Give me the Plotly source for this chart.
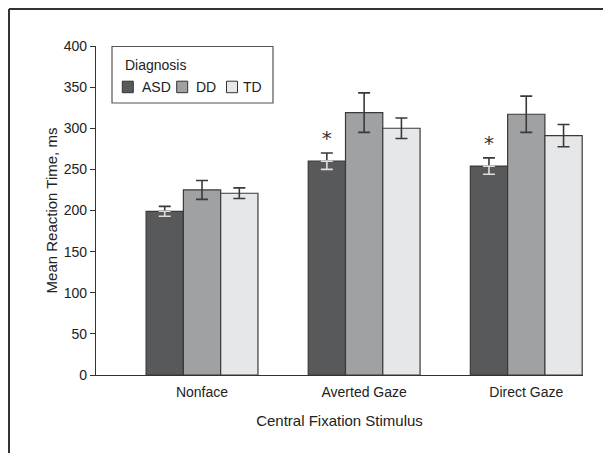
import plotly.graph_objects as go

categories = ["Nonface", "Averted Gaze", "Direct Gaze"]
asd = [199, 260, 254]
asd_err = [6, 10, 10]
dd = [225, 319, 317]
dd_err = [11.5, 24, 22]
td = [221, 300, 291]
td_err = [6.5, 12.5, 13.5]
asd_marks = ["", "*", "*"]
series_names = ["ASD", "DD", "TD"]
series_colors = ["#58595b", "#a0a1a3", "#e6e7e8"]

FONT = "Liberation Sans, Arial, sans-serif"
ERR = "#3a3a3a"
OUTLINE = "#3a3a3a"

fig = go.Figure()

def add_series(name, vals, errs, color, lower_color=ERR):
    fig.add_trace(go.Bar(
        name=name, x=categories, y=vals, offsetgroup=name,
        marker=dict(color=color, line=dict(color=OUTLINE, width=1.2)),
        error_y=dict(type="data", symmetric=False, array=errs,
                     arrayminus=[0] * len(errs) if lower_color != ERR else errs,
                     color=ERR, thickness=1.6, width=6),
    ))
    if lower_color != ERR:
        fig.add_trace(go.Bar(
            name=name, x=categories, y=vals, offsetgroup=name, showlegend=False,
            marker=dict(color="rgba(0,0,0,0)", line=dict(width=0)),
            error_y=dict(type="data", symmetric=False, array=[0] * len(errs),
                         arrayminus=errs, color=lower_color, thickness=1.6, width=6),
            hoverinfo="skip",
        ))

add_series(series_names[0], asd, asd_err, series_colors[0], lower_color="#dedede")
add_series(series_names[1], dd, dd_err, series_colors[1])
add_series(series_names[2], td, td_err, series_colors[2])

# significance asterisks above ASD error bars
fig.add_trace(go.Bar(
    x=categories, y=[v + e for v, e in zip(asd, asd_err)], offsetgroup="ASD",
    showlegend=False, marker=dict(color="rgba(0,0,0,0)", line=dict(width=0)),
    text=asd_marks, textposition="outside", cliponaxis=False,
    textfont=dict(family="DejaVu Sans", size=20, color="#333"),
    hoverinfo="skip",
))

# figure sits inside the page's 8px body margin
W, H = 603, 445
L, R, T, B = 88, 28, 38, 78
pw, ph = W - L - R, H - T - B

def px_x(px):
    return (px - L) / pw

def px_y(py):
    return (H - B - py) / ph

shapes = [
    dict(type="line", xref="paper", yref="paper", x0=px_x(1), x1=px_x(W),
         y0=px_y(1), y1=px_y(1), line=dict(color="#333", width=2)),
    dict(type="line", xref="paper", yref="paper", x0=px_x(1), x1=px_x(1),
         y0=px_y(1), y1=px_y(H), line=dict(color="#333", width=2)),
    # legend box
    dict(type="rect", xref="paper", yref="paper", x0=px_x(104), x1=px_x(265),
         y0=px_y(95), y1=px_y(38.5), line=dict(color="#555", width=1.2),
         fillcolor="white", layer="above"),
]
annotations = [
    dict(text="Diagnosis", xref="paper", yref="paper", x=px_x(114.5), y=px_y(57),
         xanchor="left", yanchor="middle", showarrow=False,
         font=dict(family=FONT, size=14, color="#222")),
]
sw_left = [114.3, 168.7, 218.5]
txt_left = [132, 186, 232.5]
for name, col, sx, tx in zip(series_names, series_colors, sw_left, txt_left):
    shapes.append(dict(type="rect", xref="paper", yref="paper", x0=px_x(sx),
                       x1=px_x(sx + 11), y0=px_y(84.7), y1=px_y(73.2),
                       line=dict(color="#333", width=1), fillcolor=col, layer="above"))
    annotations.append(dict(text=name, xref="paper", yref="paper", x=px_x(tx),
                            y=px_y(79), xanchor="left", yanchor="middle",
                            showarrow=False, font=dict(family=FONT, size=14, color="#222")))

fig.update_layout(
    width=W, height=H,
    margin=dict(l=L, r=R, t=T, b=B, autoexpand=False),
    paper_bgcolor="white", plot_bgcolor="white",
    barmode="group", bargap=0.31, bargroupgap=0,
    font=dict(family=FONT, size=14, color="#222"),
    showlegend=False,
    xaxis=dict(
        type="category", range=[-0.654, 2.35], showline=True, linecolor="#333",
        linewidth=1.2, ticks="", showgrid=False, tickfont=dict(size=14),
        ticklabelstandoff=4,
        title=dict(text="Central Fixation Stimulus", font=dict(size=15), standoff=16),
    ),
    yaxis=dict(
        range=[0, 400], dtick=50, showline=True, linecolor="#333", linewidth=1.2,
        ticks="outside", ticklen=5, tickcolor="#333", showgrid=False,
        zeroline=False, tickfont=dict(size=14),
        title=dict(text="Mean Reaction Time, ms", font=dict(size=15), standoff=2),
    ),
    shapes=shapes,
    annotations=annotations,
)

fig.write_html("out.html")
